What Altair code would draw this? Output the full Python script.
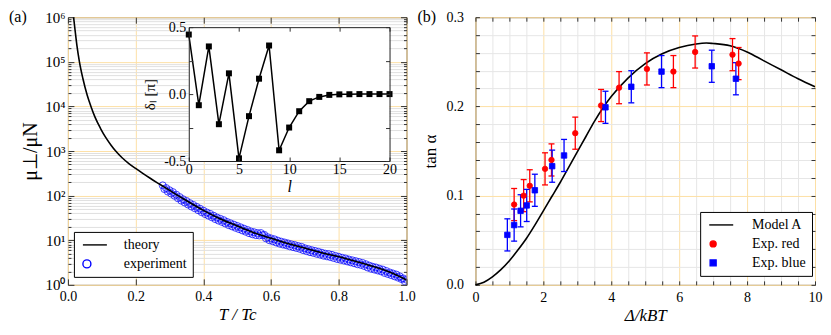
import altair as alt
import pandas as pd

# ---------------- panel (a): theory curve ----------------
theory_T = [0.0167, 0.0206, 0.0265, 0.034, 0.044, 0.057, 0.068, 0.080, 0.096, 0.112,
            0.128, 0.141, 0.160, 0.180, 0.200, 0.220, 0.243, 0.270, 0.304, 0.343,
            0.400, 0.441, 0.500, 0.549, 0.600, 0.657, 0.706, 0.755, 0.800, 0.853,
            0.902, 0.951, 1.000]
theory_mu = [1.0e6, 5.5e5, 2.34e5, 1.0e5, 4.27e4, 1.78e4, 1.0e4, 5754, 3236, 1995,
             1334, 1000, 708, 525, 407, 320, 245, 182, 126, 83.2,
             46.8, 32.4, 20.9, 14.8, 11.1, 8.13, 6.46, 5.13, 4.27, 3.31,
             2.57, 1.91, 1.29]

# ---------------- panel (a): experiment ----------------
exp_T = [0.280, 0.285, 0.290, 0.295, 0.300, 0.305, 0.310, 0.315, 0.320, 0.325,
         0.330, 0.335, 0.340, 0.345, 0.350, 0.355, 0.360, 0.365, 0.370, 0.375,
         0.380, 0.385, 0.390, 0.395, 0.400, 0.405, 0.410, 0.415, 0.420, 0.425,
         0.430, 0.435, 0.440, 0.445, 0.450, 0.455, 0.460, 0.465, 0.470, 0.475,
         0.480, 0.485, 0.490, 0.495, 0.500, 0.505, 0.510, 0.515, 0.520, 0.525,
         0.530, 0.535, 0.540, 0.545, 0.550, 0.555, 0.560, 0.565, 0.570, 0.575,
         0.580, 0.585, 0.590, 0.595, 0.600, 0.605, 0.610, 0.615, 0.620, 0.625,
         0.630, 0.635, 0.640, 0.645, 0.650, 0.655, 0.660, 0.665, 0.670, 0.675,
         0.680, 0.685, 0.690, 0.695, 0.700, 0.705, 0.710, 0.715, 0.720, 0.725,
         0.730, 0.735, 0.740, 0.745, 0.750, 0.755, 0.760, 0.765, 0.770, 0.775,
         0.780, 0.785, 0.790, 0.795, 0.800, 0.805, 0.810, 0.815, 0.820, 0.825,
         0.830, 0.835, 0.840, 0.845, 0.850, 0.855, 0.860, 0.865, 0.870, 0.875,
         0.880, 0.885, 0.890, 0.895, 0.900, 0.905, 0.910, 0.915, 0.920, 0.925,
         0.930, 0.935, 0.940, 0.945, 0.950, 0.955, 0.960, 0.965, 0.970, 0.975,
         0.980, 0.985, 0.990, 0.995, 1.000]
exp_mu = [170, 140, 148, 123, 132, 111, 120, 99, 105, 87,
          93, 77, 83, 70, 76, 63, 68, 57, 62, 52,
          56, 47, 51, 42.5, 46, 38.7, 42, 35.6, 39, 32.7,
          35.5, 29.8, 32.4, 27.5, 30.2, 25.7, 28.2, 23.7, 25.7, 21.8,
          24.0, 20.4, 22.4, 19.0, 20.9, 17.8, 19.5, 16.6, 18.2, 15.5,
          17.0, 14.4, 15.8, 13.6, 15.1, 13.0, 14.5, 12.8, 14.5, 13.0,
          13.2, 11.0, 11.7, 10.0, 11.0, 9.5, 10.5, 8.9, 9.8, 8.4,
          9.3, 8.0, 8.9, 7.7, 8.5, 7.3, 8.1, 7.0, 7.8, 6.7,
          7.4, 6.4, 7.1, 6.0, 6.6, 5.7, 6.3, 5.4, 6.0, 5.2,
          5.75, 4.95, 5.5, 4.75, 5.25, 4.5, 5.0, 4.35, 4.9, 4.2,
          4.7, 4.0, 4.45, 3.8, 4.25, 3.65, 4.05, 3.5, 3.9, 3.35,
          3.7, 3.2, 3.55, 3.05, 3.4, 2.9, 3.25, 2.8, 3.1, 2.65,
          2.9, 2.45, 2.7, 2.3, 2.55, 2.2, 2.45, 2.1, 2.3, 2.0,
          2.2, 1.85, 2.05, 1.75, 1.9, 1.65, 1.8, 1.55, 1.7, 1.45,
          1.55, 1.35, 1.4, 1.2, 1.3]

# ---------------- panel (a): inset phase shifts ----------------
inset_l = [0, 1, 2, 3, 4, 5, 6, 7, 8, 9, 10, 11, 12, 13, 14, 15, 16, 17, 18, 19, 20]
inset_delta = [0.445, -0.083, 0.356, -0.225, 0.155, -0.48, -0.165, 0.115, 0.363, -0.42,
               -0.25, -0.128, -0.053, -0.021, -0.006, -0.002, -0.001, 0.0, 0.0, 0.0, 0.0]

# ---------------- panel (b) ----------------
model_x = [0, 0.25, 0.5, 0.75, 1.0, 1.25, 1.5, 1.75, 2.0, 2.25, 2.5, 2.75, 3.0, 3.25,
           3.5, 3.75, 4.0, 4.5, 5.0, 5.5, 6.0, 6.5, 6.8, 7.0, 7.5, 8.0, 8.5, 9.0, 9.5, 10.0]
model_y = [0, 0.003, 0.009, 0.017, 0.027, 0.039, 0.052, 0.067, 0.083, 0.099, 0.115, 0.132,
           0.149, 0.166, 0.183, 0.198, 0.211, 0.232, 0.248, 0.259, 0.266, 0.270, 0.271,
           0.2705, 0.268, 0.261, 0.251, 0.241, 0.231, 0.222]
red_x = [1.14, 1.42, 1.60, 2.05, 2.24, 2.94, 3.70, 4.23, 5.05, 5.83, 6.47, 7.57, 7.75]
red_y = [0.090, 0.100, 0.111, 0.130, 0.140, 0.170, 0.201, 0.221, 0.242, 0.239, 0.261, 0.258, 0.248]
red_err = [0.018, 0.018, 0.018, 0.018, 0.018, 0.018, 0.018, 0.018, 0.018, 0.018, 0.018, 0.018, 0.018]
blue_x = [0.94, 1.14, 1.33, 1.51, 1.75, 2.26, 2.61, 3.83, 4.59, 5.48, 6.96, 7.67]
blue_y = [0.056, 0.067, 0.083, 0.089, 0.106, 0.133, 0.145, 0.199, 0.222, 0.239, 0.245, 0.231]
blue_err = [0.018, 0.018, 0.018, 0.018, 0.018, 0.018, 0.018, 0.018, 0.018, 0.018, 0.018, 0.018]

series_a = ["theory", "experiment"]
series_b = ["Model A", "Exp. red", "Exp. blue"]

# tick positions
a_xticks = [0.0, 0.2, 0.4, 0.6, 0.8, 1.0]
a_major = [1, 10, 100, 1e3, 1e4, 1e5, 1e6]
a_minor = [m * d for d in [1, 10, 100, 1e3, 1e4, 1e5] for m in [2, 3, 4, 5, 6, 7, 8, 9]]
i_xticks = [0, 5, 10, 15, 20]
i_yticks = [-0.5, -0.25, 0.0, 0.25, 0.5]
b_xmaj = [0, 2, 4, 6, 8, 10]
b_xmin = [0.5, 1, 1.5, 2.5, 3, 3.5, 4.5, 5, 5.5, 6.5, 7, 7.5, 8.5, 9, 9.5]
b_xall = sorted(b_xmaj + b_xmin)
b_ymaj = [0.0, 0.1, 0.2, 0.3]
b_ymin = [0.02, 0.04, 0.06, 0.08, 0.12, 0.14, 0.16, 0.18, 0.22, 0.24, 0.26, 0.28]
b_yall = sorted(b_ymaj + b_ymin)

# ---------------- style ----------------
FONT = "Liberation Serif"
FRAME = "#4a3c24"
TICK = "#333333"
ORANGE = "#fde0a6"
GREY_A = "#e0e0e0"
GREY_B = "#e6e6e6"
WA, WB, H = 339, 340, 268
IX0, IX1, IY0, IY1 = 121, 322, 144, 10   # inset plot-area pixel range

LINE_A = "M-1,0L5,0"
LINE_B = "M-1.3,0L6.7,0"


def ax(orient, values, size, labels=False, grid=False, gcolor=None, title=None,
       fmt=None, lexpr=None, offset=None, z=None, domain=False, gap=4,
       tpad=None, tstyle=None, tsize=17, lsize=14):
    kw = dict(orient=orient, values=values, labels=labels, grid=grid, domain=domain,
              ticks=True, tickSize={"expr": str(-size)}, tickColor=TICK, tickWidth=1,
              title=title)
    if labels:
        kw.update(labelFontSize=lsize, labelColor="black", labelPadding=size + gap,
                  labelFlush=False, labelOverlap=False, labelFont=FONT)
        if fmt:
            kw["format"] = fmt
        if lexpr:
            kw["labelExpr"] = lexpr
    if grid:
        kw.update(gridColor=gcolor, gridWidth=1)
    if offset is not None:
        kw["offset"] = offset
    if z is not None:
        kw["zindex"] = z
    if domain:
        kw.update(domainColor="#222222", domainWidth=1)
    if title is not None:
        kw.update(titleFontSize=tsize, titleFontWeight="normal", titleColor="black",
                  titleFont=FONT)
        if tpad is not None:
            kw["titlePadding"] = tpad
        if tstyle:
            kw["titleFontStyle"] = tstyle
    return alt.Axis(**kw)


def legend(x, y, size, loff):
    return alt.Legend(title=None, orient="none", legendX=x, legendY=y,
                      fillColor="white", strokeColor="black", cornerRadius=0,
                      padding=6, labelFontSize=14, labelFont=FONT, labelColor="black",
                      symbolSize=size, symbolStrokeWidth=1.4, labelOffset=loff,
                      rowPadding=5, symbolOpacity=1)


# ---------------- panel (a) ----------------
theory_df = pd.DataFrame({"T": theory_T, "mu": theory_mu, "series": series_a[0]})
exp_df = pd.DataFrame({"T": exp_T, "mu": exp_mu, "series": series_a[1]})
inset_df = pd.DataFrame({"l": inset_l, "d": inset_delta})
box_df = pd.DataFrame({"x0": [inset_l[0]], "x1": [inset_l[-1]],
                       "y0": [i_yticks[0]], "y1": [i_yticks[-1]]})

xa = alt.Scale(domain=[0, 1], nice=False, zero=False)
ya = alt.Scale(type="log", domain=[1, 1e6], nice=False)
col_a = alt.Scale(domain=series_a, range=["black", "blue"])
shp_a = alt.Scale(domain=series_a, range=[LINE_A, "circle"])
leg_a = legend(6, 215, 64, 30)
sup = "'10' + ['⁰','¹','²','³','⁴','⁵','⁶'][round(log(datum.value)/LN10)]"

a_exp = alt.Chart(exp_df).mark_point(filled=False, size=49, strokeWidth=1, opacity=0.75,
                                     clip=True).encode(
    x=alt.X("T:Q", scale=xa, axis=ax("top", a_xticks, 6)),
    y=alt.Y("mu:Q", scale=ya, axis=ax("left", a_minor, 3, grid=True, gcolor=GREY_A)),
    color=alt.Color("series:N", scale=col_a, legend=leg_a),
    shape=alt.Shape("series:N", scale=shp_a, legend=leg_a),
)
a_theory = alt.Chart(theory_df).mark_line(strokeWidth=1.6, clip=True,
                                          interpolate="monotone").encode(
    x=alt.X("T:Q", scale=xa, axis=ax("bottom", a_xticks, 6, labels=True, grid=True,
                                      gcolor=ORANGE, title="T / Tc", fmt=".1f",
                                      tstyle="italic", gap=5, tpad=3)),
    y=alt.Y("mu:Q", scale=ya, axis=ax("left", a_major, 6, labels=True, grid=True,
                                       gcolor=ORANGE, title="μ⊥/μN", lexpr=sup,
                                       gap=3, tpad=4, tsize=20, lsize=15)),
    color=alt.Color("series:N", scale=col_a, legend=leg_a),
)
a_r1 = alt.Chart(theory_df).mark_line(strokeOpacity=0, clip=True).encode(
    x=alt.X("T:Q", scale=xa, axis=None),
    y=alt.Y("mu:Q", scale=ya, axis=ax("right", a_major, 6)),
)
a_r2 = alt.Chart(theory_df).mark_line(strokeOpacity=0, clip=True).encode(
    x=alt.X("T:Q", scale=xa, axis=None),
    y=alt.Y("mu:Q", scale=ya, axis=ax("right", a_minor, 3)),
)

xi = alt.Scale(domain=[0, 20], range=[IX0, IX1], nice=False, zero=False)
yi = alt.Scale(domain=[-0.5, 0.5], range=[IY0, IY1], nice=False, zero=False)
i_lab = "abs(datum.value) == 0.25 ? '' : replace(format(datum.value, '.1f'), '\u2212', '-')"

inset_box = alt.Chart(box_df).mark_rect(color="white", opacity=1).encode(
    x=alt.X("x0:Q", scale=xi, axis=ax("bottom", i_xticks, 4, labels=True, title="l",
                                       tstyle="italic", fmt="d", offset=-(H - IY0), z=1,
                                       domain=True, gap=2, tpad=2, tsize=16)),
    x2="x1:Q",
    y=alt.Y("y0:Q", scale=yi, axis=ax("left", i_yticks, 4, labels=True, title="δₗ [π]",
                                       lexpr=i_lab, offset=-IX0, z=1, domain=True,
                                       gap=3, tpad=6, tsize=15)),
    y2="y1:Q",
)
inset_line = alt.Chart(inset_df).mark_line(color="black", strokeWidth=1.5).encode(
    x=alt.X("l:Q", scale=xi, axis=ax("top", i_xticks, 4, offset=-IY1, z=1, domain=True)),
    y=alt.Y("d:Q", scale=yi, axis=ax("right", i_yticks, 4, offset=-(WA - IX1), z=1,
                                      domain=True)),
)
inset_pts = alt.Chart(inset_df).mark_square(color="black", size=36, opacity=1).encode(
    x=alt.X("l:Q", scale=xi, axis=None),
    y=alt.Y("d:Q", scale=yi, axis=None),
)
lab_a = alt.Chart(pd.DataFrame({"t": ["(a)"]})).mark_text(
    align="left", baseline="alphabetic", fontSize=16, font=FONT, color="black").encode(
    text="t:N", x=alt.value(-59), y=alt.value(5))

left = alt.layer(a_exp, a_theory, a_r1, a_r2, inset_box, inset_line, inset_pts, lab_a
                 ).resolve_scale(x="independent", y="independent").properties(width=WA, height=H)

# ---------------- panel (b) ----------------
model_df = pd.DataFrame({"x": model_x, "y": model_y, "s": series_b[0]})
red_df = pd.DataFrame({"x": red_x, "y": red_y,
                       "lo": [a - b for a, b in zip(red_y, red_err)],
                       "hi": [a + b for a, b in zip(red_y, red_err)], "s": series_b[1]})
blue_df = pd.DataFrame({"x": blue_x, "y": blue_y,
                        "lo": [a - b for a, b in zip(blue_y, blue_err)],
                        "hi": [a + b for a, b in zip(blue_y, blue_err)], "s": series_b[2]})
pts_df = pd.concat([red_df, blue_df], ignore_index=True)

xb = alt.Scale(domain=[0, 10], nice=False, zero=False)
yb = alt.Scale(domain=[0, 0.3], nice=False, zero=False)
col_b = alt.Scale(domain=series_b, range=["black", "red", "blue"])
shp_b = alt.Scale(domain=series_b, range=[LINE_B, "circle", "square"])
leg_b = legend(225, 195, 36, 32)

b_model = alt.Chart(model_df).mark_line(strokeWidth=1.6, interpolate="monotone").encode(
    x=alt.X("x:Q", scale=xb, axis=ax("bottom", b_xmaj, 4, labels=True, grid=True,
                                      gcolor=ORANGE, title="Δ/kBT", fmt="d",
                                      tstyle="italic", gap=6, tpad=3)),
    y=alt.Y("y:Q", scale=yb, axis=ax("left", b_ymaj, 4, labels=True, grid=True,
                                      gcolor=ORANGE, title="tan α", fmt=".1f",
                                      gap=12, tpad=6)),
    color=alt.Color("s:N", scale=col_b, legend=leg_b),
)


def bars(df, colr, xaxis, yaxis):
    return alt.Chart(df).mark_rule(color=colr, strokeWidth=1.3).encode(
        x=alt.X("x:Q", scale=xb, axis=xaxis),
        y=alt.Y("lo:Q", scale=yb, axis=yaxis),
        y2="hi:Q",
    )


b_red_bar = bars(red_df, "red", ax("bottom", b_xmin, 4, grid=True, gcolor=GREY_B),
                 ax("left", b_ymin, 4, grid=True, gcolor=GREY_B))
b_blue_bar = bars(blue_df, "blue", None, None)


def caps(df, colr, xaxis, yaxis):
    return alt.Chart(df).transform_fold(["lo", "hi"], as_=["k", "v"]).mark_tick(
        orient="horizontal", size=6, thickness=1.3, color=colr, opacity=1).encode(
        x=alt.X("x:Q", scale=xb, axis=xaxis),
        y=alt.Y("v:Q", scale=yb, axis=yaxis),
    )


b_red_cap = caps(red_df, "red", ax("top", b_xall, 4), ax("right", b_yall, 4))
b_blue_cap = caps(blue_df, "blue", None, None)

b_pts = alt.Chart(pts_df).mark_point(filled=True, size=30, strokeWidth=0.8, opacity=1).encode(
    x=alt.X("x:Q", scale=xb, axis=None),
    y=alt.Y("y:Q", scale=yb, axis=None),
    color=alt.Color("s:N", scale=col_b, legend=leg_b),
    stroke=alt.Stroke("s:N", scale=col_b, legend=leg_b),
    shape=alt.Shape("s:N", scale=shp_b, legend=leg_b),
)
lab_b = alt.Chart(pd.DataFrame({"t": ["(b)"]})).mark_text(
    align="left", baseline="alphabetic", fontSize=16, font=FONT, color="black").encode(
    text="t:N", x=alt.value(-58), y=alt.value(5))

right = alt.layer(b_model, b_red_bar, b_red_cap, b_blue_bar, b_blue_cap, b_pts, lab_b
                  ).resolve_scale(x="independent", y="independent").properties(width=WB, height=H)

chart = alt.hconcat(left, right, spacing=0, padding=0).resolve_scale(
    color="independent", shape="independent", stroke="independent"
).configure(font=FONT, background="white").configure_view(
    stroke=FRAME, strokeWidth=1
)

chart.save("out.html", embed_options={"renderer": "svg", "actions": False})
